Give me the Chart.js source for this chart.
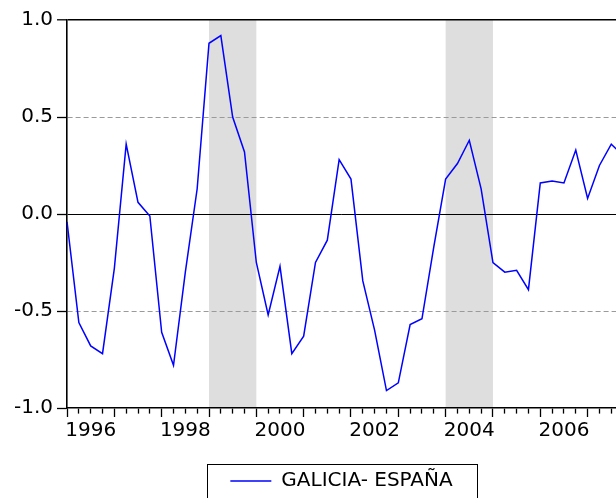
<!DOCTYPE html>
<html>
<head>
<meta charset="utf-8">
<script src="https://cdn.jsdelivr.net/npm/chart.js@4"></script>
<style>
  html, body { margin: 0; padding: 0; background: #fff; }
  #wrap { width: 616px; height: 498px; }
</style>
</head>
<body>
<div id="wrap"><canvas id="myChart"></canvas></div>
<script>
// quarterly series, 1996Q1 onward
const quarters = [];
for (let y = 1996; y <= 2007; y++) {
  for (let q = 1; q <= 4; q++) quarters.push(y + 'Q' + q);
}
const galiciaEspana = [
  -0.04, -0.56, -0.68, -0.72, -0.28, 0.36, 0.06, -0.01,
  -0.61, -0.78, -0.30, 0.13, 0.88, 0.92, 0.50, 0.32,
  -0.25, -0.52, -0.27, -0.72, -0.63, -0.25, -0.135, 0.28,
  0.18, -0.345, -0.60, -0.91, -0.87, -0.57, -0.54, -0.17,
  0.18, 0.26, 0.38, 0.13, -0.25, -0.30, -0.29, -0.39,
  0.16, 0.17, 0.16, 0.33, 0.08, 0.25, 0.36, 0.30
];
const shadedPeriods = [[1999, 2000], [2004, 2005]];
const yearLabels = [1996, 1998, 2000, 2002, 2004, 2006];
const seriesName = 'GALICIA- ESPAÑA';

const fontFamily = 'DejaVu Sans';

function quarterToX(label) {
  const year = parseInt(label.slice(0, 4));
  const q = parseInt(label.slice(5));
  return year + (q - 1) / 4;
}

const points = quarters.map((lab, i) => ({ x: quarterToX(lab), y: galiciaEspana[i] }));

const shading = {
  id: 'shading',
  beforeDraw(chart) {
    const { ctx, chartArea, scales } = chart;
    ctx.save();
    ctx.fillStyle = '#dedede';
    shadedPeriods.forEach(([s, e]) => {
      const x1 = scales.x.getPixelForValue(s);
      const x2 = scales.x.getPixelForValue(e);
      ctx.fillRect(x1, chartArea.top, x2 - x1, chartArea.bottom - chartArea.top);
    });
    ctx.restore();
  }
};

const legendFrame = {
  id: 'legendFrame',
  afterDraw(chart) {
    const hb = chart.legend.legendHitBoxes[0];
    if (!hb) return;
    const cx = hb.left + hb.width / 2;
    const cy = hb.top + 10;
    const ctx = chart.ctx;
    ctx.save();
    ctx.strokeStyle = '#000';
    ctx.lineWidth = 1;
    ctx.strokeRect(Math.round(cx - 135) + 0.5, Math.round(cy - 17) + 0.5, 270, 34);
    ctx.restore();
  }
};

const ctx = document.getElementById('myChart');

new Chart(ctx, {
  type: 'line',
  data: {
    datasets: [{
      label: seriesName,
      data: points,
      borderColor: '#0000ff',
      backgroundColor: '#0000ff',
      borderWidth: 1.5,
      pointRadius: 0,
      pointStyle: 'line',
      tension: 0,
      fill: false
    }]
  },
  options: {
    responsive: true,
    maintainAspectRatio: false,
    animation: false,
    layout: { padding: { left: 10, top: 20, right: 0, bottom: -3 } },
    plugins: {
      legend: {
        position: 'bottom',
        fullSize: false,
        labels: {
          usePointStyle: true,
          pointStyle: 'line',
          pointStyleWidth: 41,
          padding: 26,
          color: '#000',
          font: { family: fontFamily, size: 20 }
        }
      },
      tooltip: { enabled: false }
    },
    scales: {
      x: {
        type: 'linear',
        min: 1996,
        max: 2007.6,
        afterBuildTicks: (scale) => {
          const t = [];
          for (let v = 1996; v <= 2007.5; v += 0.25) t.push({ value: v });
          scale.ticks = t;
        },
        ticks: {
          autoSkip: false,
          maxRotation: 0,
          padding: 4,
          color: '#000',
          font: { family: fontFamily, size: 20, lineHeight: 1 },
          callback: (v) => yearLabels.includes(v - 0.5) ? String(v - 0.5) : ''
        },
        grid: {
          drawOnChartArea: false,
          tickLength: 9,
          tickColor: '#000',
          tickWidth: 1.3,
          tickBorderDash: (c) => (c.tick && !Number.isInteger(c.tick.value)) ? [5, 20] : []
        },
        border: { color: '#000', width: 1.6 }
      },
      y: {
        min: -1,
        max: 1,
        ticks: {
          stepSize: 0.5,
          padding: 4,
          color: '#000',
          font: { family: fontFamily, size: 20 },
          callback: (v) => Number(v).toFixed(1)
        },
        grid: {
          color: (c) => {
            if (!c.tick) return '#000';
            if (c.tick.value === -1) return 'rgba(0,0,0,0)';
            if (Math.abs(c.tick.value) === 0.5) return '#9a9a9a';
            return '#000';
          },
          lineWidth: (c) => (c.tick && c.tick.value === 1) ? 1.6 : 1,
          tickLength: 10,
          tickColor: '#000',
          tickWidth: 1.3,
          tickBorderDash: []
        },
        border: {
          color: '#000',
          width: 1.6,
          dash: (c) => (c.tick && Math.abs(c.tick.value) === 0.5) ? [5, 3] : []
        }
      }
    }
  },
  plugins: [shading, legendFrame]
});
</script>
</body>
</html>
